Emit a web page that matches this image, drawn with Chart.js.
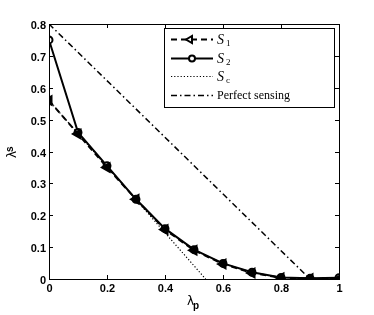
<!DOCTYPE html>
<html>
<head>
<meta charset="utf-8">
<script src="https://cdn.jsdelivr.net/npm/chart.js@4/dist/chart.umd.min.js"></script>
<style>
  body { margin: 0; background: #fff; }
</style>
</head>
<body>
<canvas id="chart" width="374" height="315"></canvas>
<script>
const lambdaP = [0, 0.1, 0.2, 0.3, 0.4, 0.5, 0.6, 0.7, 0.8, 0.9, 1];
const s1 = [0.56, 0.455, 0.35, 0.25, 0.155, 0.09, 0.047, 0.019, 0.004, 0.001, 0];
const s2 = [0.75, 0.46, 0.355, 0.25, 0.158, 0.092, 0.049, 0.021, 0.005, 0.002, 0.004];
const scX = [0, 0.54];
const scY = [0.56, 0];
const perfectX = [0, 0.9];
const perfectY = [0.8, 0];
const xTicks = [0, 0.2, 0.4, 0.6, 0.8, 1];
const yTicks = [0, 0.1, 0.2, 0.3, 0.4, 0.5, 0.6, 0.7, 0.8];

function pts(xs, ys) {
  return xs.map((x, i) => ({ x: x, y: ys[i] }));
}

function fmt(v) {
  return String(Number(v.toFixed(1)));
}

const decorPlugin = {
  id: "decor",
  afterDraw(chart) {
    const ctx = chart.ctx;
    const a = chart.chartArea;
    const xs = chart.scales.x;
    const ys = chart.scales.y;
    ctx.save();
    ctx.strokeStyle = "#000";
    ctx.lineWidth = 1;
    ctx.setLineDash([]);
    ctx.strokeRect(a.left + 0.5, a.top + 0.5, a.right - a.left, a.bottom - a.top);
    // inward ticks + labels
    ctx.beginPath();
    ctx.fillStyle = "#000";
    ctx.font = "bold 11px 'Liberation Sans'";
    xTicks.forEach(v => {
      const px = Math.round(xs.getPixelForValue(v)) + 0.5;
      ctx.moveTo(px, a.bottom); ctx.lineTo(px, a.bottom - 4);
      ctx.moveTo(px, a.top); ctx.lineTo(px, a.top + 4);
      ctx.textAlign = "center";
      ctx.textBaseline = "middle";
      ctx.fillText(fmt(v), px, a.bottom + 10);
    });
    yTicks.forEach(v => {
      const py = Math.round(ys.getPixelForValue(v)) + 0.5;
      ctx.moveTo(a.left, py); ctx.lineTo(a.left + 4, py);
      ctx.moveTo(a.right, py); ctx.lineTo(a.right - 4, py);
      ctx.textAlign = "right";
      ctx.textBaseline = "middle";
      ctx.fillText(fmt(v), a.left - 3, py + 1);
    });
    ctx.stroke();

    // axis titles
    ctx.textBaseline = "alphabetic";
    ctx.textAlign = "left";
    ctx.font = "12px 'DejaVu Sans'";
    ctx.fillText("λ", 187, 305);
    ctx.font = "bold 10px 'Liberation Sans'";
    ctx.fillText("p", 193, 309);
    ctx.save();
    ctx.translate(16, 158);
    ctx.rotate(-Math.PI / 2);
    ctx.font = "12px 'DejaVu Sans'";
    ctx.fillText("λ", 0, 0);
    ctx.font = "bold 10px 'Liberation Sans'";
    ctx.fillText("s", 6, -3);
    ctx.restore();

    // legend
    const lx = 164, ly = 28, lw = 170, lh = 79;
    ctx.fillStyle = "#fff";
    ctx.fillRect(lx, ly, lw, lh);
    ctx.strokeStyle = "#000";
    ctx.strokeRect(lx + 0.5, ly + 0.5, lw, lh);
    const rows = [
      { y: 39, dash: [6, 4], width: 2, marker: "tri", label: "S", sub: "1" },
      { y: 58, dash: [], width: 2, marker: "circ", label: "S", sub: "2" },
      { y: 76, dash: [1.2, 2], width: 1.2, marker: null, label: "S", sub: "c" },
      { y: 95, dash: [6, 3, 1.5, 3], width: 1.5, marker: null, label: "Perfect sensing", sub: null }
    ];
    rows.forEach(r => {
      ctx.setLineDash(r.dash);
      ctx.lineWidth = r.width;
      ctx.strokeStyle = "#000";
      ctx.beginPath();
      ctx.moveTo(171, r.y + 0.5);
      ctx.lineTo(213, r.y + 0.5);
      ctx.stroke();
      ctx.setLineDash([]);
      if (r.marker === "tri") {
        ctx.lineWidth = 2;
        ctx.fillStyle = "#fff";
        ctx.beginPath();
        ctx.moveTo(186, r.y + 0.5);
        ctx.lineTo(192, r.y - 3);
        ctx.lineTo(192, r.y + 4);
        ctx.closePath();
        ctx.fill(); ctx.stroke();
      } else if (r.marker === "circ") {
        ctx.lineWidth = 2;
        ctx.fillStyle = "#fff";
        ctx.beginPath();
        ctx.arc(192, r.y + 0.5, 3, 0, Math.PI * 2);
        ctx.fill(); ctx.stroke();
      }
      ctx.fillStyle = "#000";
      ctx.textAlign = "left";
      ctx.textBaseline = "middle";
      if (r.sub) {
        ctx.font = "italic 14px 'Liberation Serif'";
        ctx.fillText(r.label, 217, r.y + 1);
        ctx.font = "9px 'Liberation Serif'";
        ctx.fillText(r.sub, 226, r.y + 5);
      } else {
        ctx.font = "12px 'Liberation Serif'";
        ctx.fillText(r.label, 217, r.y + 1);
      }
    });
    ctx.restore();
  }
};

new Chart(document.getElementById("chart"), {
  type: "line",
  data: {
    datasets: [
      {
        label: "Perfect sensing",
        data: pts(perfectX, perfectY),
        borderColor: "#000",
        borderWidth: 1.5,
        borderDash: [6, 3, 1.5, 3],
        pointRadius: 0
      },
      {
        label: "Sc",
        data: pts(scX, scY),
        borderColor: "#000",
        borderWidth: 1.2,
        borderDash: [1.2, 2],
        pointRadius: 0
      },
      {
        label: "S1",
        data: pts(lambdaP, s1),
        borderColor: "#000",
        borderWidth: 2,
        borderDash: [6, 4],
        pointStyle: "triangle",
        rotation: -90,
        pointRadius: 5,
        pointBorderWidth: 2,
        pointBackgroundColor: "#000",
        pointBorderColor: "#000"
      },
      {
        label: "S2",
        data: pts(lambdaP, s2),
        borderColor: "#000",
        borderWidth: 2,
        pointStyle: "circle",
        pointRadius: 3.5,
        pointBorderWidth: 2,
        pointBackgroundColor: "#fff",
        pointBorderColor: "#000"
      }
    ]
  },
  options: {
    responsive: false,
    animation: false,
    devicePixelRatio: 1,
    layout: { padding: { left: 0, right: 35, top: 24, bottom: 0 } },
    plugins: { legend: { display: false }, tooltip: { enabled: false } },
    scales: {
      x: {
        type: "linear",
        min: 0,
        max: 1,
        afterFit(scale) { scale.height = 36; },
        afterBuildTicks(scale) { scale.ticks = xTicks.map(v => ({ value: v })); },
        grid: { display: false },
        border: { display: false },
        ticks: { display: false }
      },
      y: {
        min: 0,
        max: 0.8,
        afterFit(scale) { scale.width = 49; },
        afterBuildTicks(scale) { scale.ticks = yTicks.map(v => ({ value: v })); },
        grid: { display: false },
        border: { display: false },
        ticks: { display: false }
      }
    }
  },
  plugins: [decorPlugin]
});
</script>
</body>
</html>
